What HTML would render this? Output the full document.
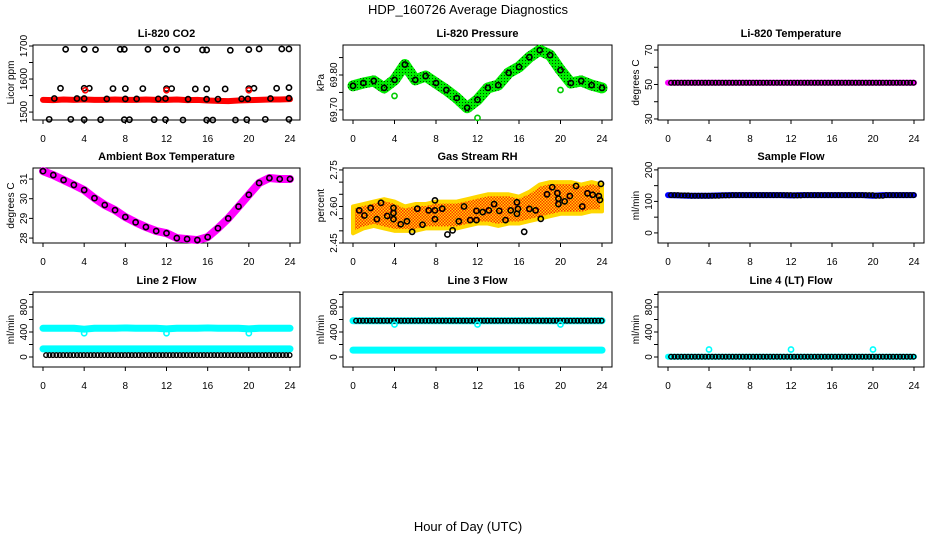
<!DOCTYPE html>
<html><head><meta charset="utf-8"><style>
html,body{margin:0;padding:0;background:#fff;}
svg{display:block;font-family:"Liberation Sans",sans-serif;}
</style></head><body>
<svg id="chart" width="936" height="540" viewBox="0 0 936 540" xmlns="http://www.w3.org/2000/svg">
<defs>
<pattern id="rhPat" width="3" height="3" patternUnits="userSpaceOnUse">
<rect width="3" height="3" fill="#ffd700"/><rect width="1.5" height="1.5" fill="#ff3000"/><rect x="1.5" y="1.5" width="1.5" height="1.5" fill="#ff3000"/>
</pattern>
<pattern id="grPat" width="3" height="3" patternUnits="userSpaceOnUse">
<rect width="3" height="3" fill="#00ee00"/><rect width="1" height="1" fill="#004400"/>
</pattern>
</defs>
<text x="468" y="14" font-size="13" text-anchor="middle">HDP_160726  Average Diagnostics</text>
<text x="468" y="531" font-size="13" text-anchor="middle">Hour of Day (UTC)</text>
</svg>
<script>
const hours = [0,1,2,3,4,5,6,7,8,9,10,11,12,13,14,15,16,17,18,19,20,21,22,23,24];
// CO2
const co2Red = [1537,1536,1538,1537,1538,1537,1537,1538,1537,1537,1538,1537,1537,1538,1536,1537,1535,1534,1533,1535,1536,1537,1538,1538,1539];
const co2TopH = [2.2,4,5.1,7.5,7.9,10.2,12,13,15.5,15.9,18.2,20,21,23.2,23.9];
const co2TopV = [1690,1690,1689,1690,1690,1690,1690,1689,1688,1688,1687,1689,1691,1691,1691];
const co2MidH = [1.7,4,4.5,6.8,8,9.7,12,12.5,14.8,15.9,17.7,20,20.5,22.7,23.9];
const co2MidV = [1572,1572,1572,1571,1571,1571,1571,1571,1570,1570,1570,1571,1572,1572,1574];
const co2LowH = [1.1,3.3,4,6.2,8,9.1,11.2,11.9,14.1,15.9,17,19.3,19.9,22.1,23.9];
const co2LowV = [1541,1541,1541,1540,1540,1540,1540,1541,1539,1539,1539,1540,1540,1541,1542];
const co2BotH = [0.6,2.7,4,5.6,7.9,8.4,10.8,11.9,13.6,15.9,16.5,18.7,19.8,21.6,23.9];
const co2BotV = [1478,1478,1477,1477,1477,1477,1477,1477,1476,1476,1476,1476,1477,1478,1478];
// Pressure
const presGreen = [69.769,69.777,69.783,69.763,69.786,69.830,69.786,69.797,69.777,69.757,69.734,69.706,69.729,69.763,69.771,69.806,69.823,69.851,69.871,69.857,69.814,69.777,69.783,69.771,69.763];
const presOutH = [4,12,20];
const presOutV = [69.74,69.677,69.757];
// Li-820 temperature
const licorTemp = [51,51,51,51,51,51,51,51,51,51,51,51,51,51,51,51,51,51,51,51,51,51,51,51,51];
// Ambient
const ambTemp = [31.4,31.2,30.95,30.7,30.44,30.03,29.68,29.42,29.07,28.8,28.56,28.36,28.25,28.0,27.95,27.9,28.05,28.5,29.0,29.6,30.2,30.8,31.05,31.0,31.0];
// RH
const rhLow = [2.49,2.51,2.52,2.51,2.50,2.50,2.50,2.51,2.51,2.51,2.51,2.52,2.53,2.53,2.52,2.53,2.53,2.54,2.55,2.56,2.57,2.57,2.57,2.58,2.58];
const rhHigh = [2.60,2.61,2.62,2.63,2.62,2.60,2.61,2.61,2.62,2.62,2.62,2.63,2.64,2.65,2.65,2.65,2.64,2.66,2.69,2.70,2.70,2.70,2.69,2.70,2.69];
const rhPtH = [0.6,1.1,1.7,2.3,2.7,3.3,3.9,3.9,3.9,4.6,5.2,5.7,6.2,6.7,7.3,7.9,7.9,7.9,8.6,9.1,9.6,10.2,10.7,11.3,11.9,11.9,12.5,13.1,13.6,14.1,14.7,15.2,15.8,15.8,15.9,16.5,17,17.6,18.1,18.7,19.2,19.7,19.8,19.8,20.4,20.9,21.5,22.1,22.6,23.1,23.7,23.8,23.9];
const rhPtV = [2.584,2.563,2.594,2.548,2.615,2.561,2.594,2.573,2.548,2.527,2.539,2.496,2.591,2.525,2.584,2.625,2.584,2.548,2.591,2.485,2.502,2.539,2.6,2.544,2.582,2.544,2.577,2.584,2.61,2.582,2.544,2.584,2.617,2.57,2.59,2.496,2.59,2.584,2.549,2.65,2.679,2.655,2.632,2.61,2.621,2.643,2.684,2.6,2.654,2.648,2.643,2.627,2.693];
// Sample flow
const sampleFlow = [120,119,118,118,118,119,120,120,120,120,120,120,119,120,120,120,120,120,120,120,118,120,120,120,120];
// Line flows
const line2Hi = [460,460,460,460,445,460,460,460,465,460,460,460,450,460,460,460,465,460,460,460,450,460,460,460,460];
const line2Lo = [130,130,130,130,130,130,130,130,130,130,130,130,130,130,130,130,130,130,130,130,130,130,130,130,130];
const line2Blk = [30,30,30,30,30,30,30,30,30,30,30,30,30,30,30,30,30,30,30,30,30,30,30,30,30];
const line3Hi = [580,580,580,580,580,580,580,580,580,580,580,580,580,580,580,580,580,580,580,580,580,580,580,580,580];
const line3Lo = [110,110,110,110,110,110,110,110,110,110,110,110,110,110,110,110,110,110,110,110,110,110,110,110,110];
const line4 = [5,5,5,5,5,5,5,5,5,5,5,5,5,5,5,5,5,5,5,5,5,5,5,5,5];
const dipH = [4,12,20];
const line2DipV = [380,380,380];
const line3DipV = [520,520,520];
const line4SpikeV = [120,120,120];

const xTicks = [0,4,8,12,16,20,24];
const svg = document.getElementById('chart');
const NS = 'http://www.w3.org/2000/svg';
function mk(tag, attrs, parent){const e=document.createElementNS(NS,tag);for(const k in attrs)e.setAttribute(k,attrs[k]);(parent||svg).appendChild(e);return e;}

const cols=[{L:33,R:300},{L:343,R:612},{L:658,R:924}];
const rows=[{T:45,B:120},{T:168,B:243},{T:292,B:367}];

function panel(name,ci,ri,title,ylab,ylim,ticks,labels,fmt){
  const c=cols[ci],r=rows[ri];
  const g=mk('g',{});
  
  
  const xs=h=>c.L+10+h*(c.R-c.L-20)/24;
  const ys=v=>r.B-(v-ylim[0])*(r.B-r.T)/(ylim[1]-ylim[0]);
  const box=mk('rect',{x:c.L,y:r.T,width:c.R-c.L,height:r.B-r.T,fill:'none',stroke:'#000','stroke-width':1},g);
  
  
  const t=mk('text',{x:(c.L+c.R)/2,y:r.T-8,'font-size':11,'font-weight':'bold','text-anchor':'middle'},g);
  t.textContent=title;
  
  
  const yx=c.L-19, yy=(r.T+r.B)/2;
  const yl=mk('text',{x:yx,y:yy,'font-size':10,'text-anchor':'middle',transform:`rotate(-90 ${yx} ${yy})`},g);
  yl.textContent=ylab;
  
  
  xTicks.forEach(h=>{
    mk('line',{x1:xs(h),x2:xs(h),y1:r.B,y2:r.B+4,stroke:'#000'},g);
    const tl=mk('text',{x:xs(h),y:r.B+22,'font-size':10,'text-anchor':'middle'},g);
    tl.textContent=h;
    
    
  });
  ticks.forEach(v=>{
    mk('line',{x1:c.L-4,x2:c.L,y1:ys(v),y2:ys(v),stroke:'#000'},g);
  });
  labels.forEach(v=>{
    const tx=c.L-6, ty=ys(v);
    const tl=mk('text',{x:tx,y:ty,'font-size':10,'text-anchor':'middle',transform:`rotate(-90 ${tx} ${ty})`},g);
    tl.textContent=fmt?fmt(v):v;
    
    
  });
  return {g,xs,ys};
}
function band(p,hs,vs,color,w,name){
  const l=mk('polyline',{points:hs.map((h,i)=>p.xs(h)+','+p.ys(vs[i])).join(' '),fill:'none',stroke:color,'stroke-width':w,'stroke-linejoin':'round','stroke-linecap':'round'},p.g);
  
  
  return l;
}
function dots(p,hs,vs,color,name,r){
  hs.forEach((h,i)=>{
    const e=mk('circle',{cx:p.xs(h),cy:p.ys(vs[i]),r:r||2.6,fill:'none',stroke:color,'stroke-width':1.6},p.g);
    
    
  });
}
function densePts(p,vs,color,name){
  vs.forEach((v,i)=>{ if(i===24) return;
    for(let k=0;k<3;k++){
      const e=mk('circle',{cx:p.xs(hours[i]+0.33*k+0.3),cy:p.ys(v),r:2.3,fill:'none',stroke:color,'stroke-width':1.4},p.g);
      
      
    }
  });
}

// CO2
let p=panel('co2',0,0,'Li-820 CO2','Licor ppm',[1476,1703],[1500,1550,1600,1650,1700],[1500,1600,1700]);
band(p,hours,co2Red,'#ff0000',6,'co2-red-series');
dots(p,co2TopH,co2TopV,'#000','co2-point');
dots(p,co2MidH,co2MidV,'#000','co2-point');
dots(p,co2LowH,co2LowV,'#000','co2-point');
dots(p,co2BotH,co2BotV,'#000','co2-point');
dots(p,[4.1,12,20],[1566,1566,1566],'#ff0000','co2-red-outlier');

// Pressure
p=panel('pressure',1,0,'Li-820 Pressure','kPa',[69.671,69.886],[69.70,69.75,69.80,69.85],[69.70,69.80],v=>v.toFixed(2));
band(p,hours,presGreen,'url(#grPat)',11,'pressure-green-series');
dots(p,hours,presGreen,'#000','pressure-point');
dots(p,presOutH,presOutV,'#00cc00','pressure-outlier');

// Li-820 temp
p=panel('licor-temp',2,0,'Li-820 Temperature','degrees C',[29.4,72.9],[30,40,50,60,70],[30,50,70]);
band(p,hours,licorTemp,'#ff00ff',6,'licor-temp-series');
densePts(p,licorTemp,'#000','licor-temp-point');

// Ambient
p=panel('ambient',0,1,'Ambient Box Temperature','degrees C',[27.75,31.56],[28,29,30,31],[28,29,30,31]);
band(p,hours,ambTemp,'#ff00ff',8,'ambient-series');
dots(p,hours,ambTemp,'#000','ambient-point');

// RH
p=panel('rh',1,1,'Gas Stream RH','percent',[2.45,2.758],[2.45,2.50,2.55,2.60,2.65,2.70,2.75],[2.45,2.60,2.75],v=>v.toFixed(2));
const area=mk('polygon',{points:hours.map((h,i)=>p.xs(h)+','+p.ys(rhHigh[i])).concat(hours.slice().reverse().map((h,j)=>p.xs(h)+','+p.ys(rhLow[24-j]))).join(' '),fill:'url(#rhPat)',stroke:'#ffd700','stroke-width':4,'stroke-linejoin':'round'},p.g);


dots(p,rhPtH,rhPtV,'#000','rh-point');

// Sample flow
p=panel('sample-flow',2,1,'Sample Flow','ml/min',[-32,206],[0,50,100,150,200],[0,100,200]);
band(p,hours,sampleFlow,'#0000ff',6,'sample-flow-series');
densePts(p,sampleFlow,'#000','sample-flow-point');

// Line 2
p=panel('line2',0,2,'Line 2 Flow','ml/min',[-160,1040],[0,200,400,600,800,1000],[0,400,800]);
band(p,hours,line2Hi,'#00ffff',7,'line2-high-series');
band(p,hours,line2Lo,'#00ffff',7,'line2-low-series');
densePts(p,line2Blk,'#000','line2-point');
dots(p,dipH,line2DipV,'#00ffff','line2-dip');

// Line 3
p=panel('line3',1,2,'Line 3 Flow','ml/min',[-160,1040],[0,200,400,600,800,1000],[0,400,800]);
band(p,hours,line3Hi,'#00ffff',7,'line3-high-series');
band(p,hours,line3Lo,'#00ffff',7,'line3-low-series');
densePts(p,line3Hi,'#000','line3-point');
dots(p,dipH,line3DipV,'#00ffff','line3-dip');

// Line 4
p=panel('line4',2,2,'Line 4 (LT) Flow','ml/min',[-160,1040],[0,200,400,600,800,1000],[0,400,800]);
band(p,hours,line4,'#00ffff',6,'line4-series');
densePts(p,line4,'#000','line4-point');
dots(p,dipH,line4SpikeV,'#00ffff','line4-spike');
</script>
</body></html>
